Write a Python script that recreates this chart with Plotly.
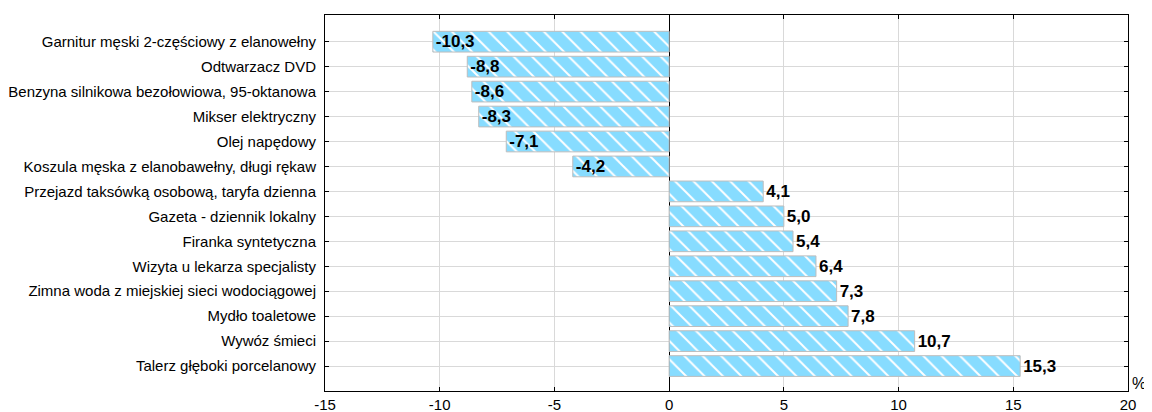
import plotly.graph_objects as go

categories = [
    "Garnitur męski 2-częściowy z elanowełny",
    "Odtwarzacz DVD",
    "Benzyna silnikowa bezołowiowa, 95-oktanowa",
    "Mikser elektryczny",
    "Olej napędowy",
    "Koszula męska z elanobawełny, długi rękaw",
    "Przejazd taksówką osobową, taryfa dzienna",
    "Gazeta - dziennik lokalny",
    "Firanka syntetyczna",
    "Wizyta u lekarza specjalisty",
    "Zimna woda z miejskiej sieci wodociągowej",
    "Mydło toaletowe",
    "Wywóz śmieci",
    "Talerz głęboki porcelanowy",
]
values = [-10.3, -8.8, -8.6, -8.3, -7.1, -4.2, 4.1, 5.0, 5.4, 6.4, 7.3, 7.8, 10.7, 15.3]
x_ticks = [-15, -10, -5, 0, 5, 10, 15, 20]

labels = [f"{v:.1f}".replace(".", ",") for v in values]
positions = ["inside" if v < 0 else "outside" for v in values]

label_font = dict(family="Liberation Sans, Arial", size=17, color="black", weight="bold")

fig = go.Figure(go.Bar(
    x=values,
    y=categories,
    orientation="h",
    width=0.83,
    text=labels,
    textposition=positions,
    insidetextanchor="end",
    constraintext="none",
    textfont=label_font,
    insidetextfont=label_font,
    outsidetextfont=label_font,
    cliponaxis=False,
    marker=dict(
        color="#87DCFF",
        line=dict(color="#BDBDBD", width=1),
        pattern=dict(shape="\\", fgcolor="white", bgcolor="#87DCFF", size=13, solidity=0.15, fillmode="replace"),
    ),
    hoverinfo="skip",
))

fig.update_layout(
    width=1144,
    height=404,
    margin=dict(l=317, r=24, t=7, b=21),
    plot_bgcolor="white",
    paper_bgcolor="white",
    showlegend=False,
    font=dict(family="Liberation Sans, Arial", size=15, color="black"),
    annotations=[dict(
        text="%", xref="paper", yref="paper", x=1.0, y=0.0,
        xanchor="left", yanchor="middle", xshift=2, yshift=8,
        showarrow=False, font=dict(family="Liberation Sans, Arial", size=16, color="black"),
    )],
)

fig.update_xaxes(
    automargin=False,
    range=[-15, 20],
    tickvals=x_ticks,
    ticktext=[str(t) for t in x_ticks],
    showgrid=True, gridcolor="#D9D9D9", gridwidth=1,
    zeroline=True, zerolinecolor="black", zerolinewidth=1,
    showline=True, linecolor="black", linewidth=1, mirror="ticks",
    ticks="inside", ticklen=4, tickcolor="black",
    tickfont=dict(size=15),
)
fig.update_yaxes(
    automargin=False,
    type="category",
    categoryorder="array",
    categoryarray=categories,
    range=[14.0, -1.07],
    showgrid=True, gridcolor="#D9D9D9", gridwidth=1,
    showline=True, linecolor="black", linewidth=1, mirror="ticks",
    ticks="inside", ticklen=4, tickcolor="black",
    ticklabelstandoff=5,
    tickfont=dict(size=15),
)

fig.write_html("out.html")
